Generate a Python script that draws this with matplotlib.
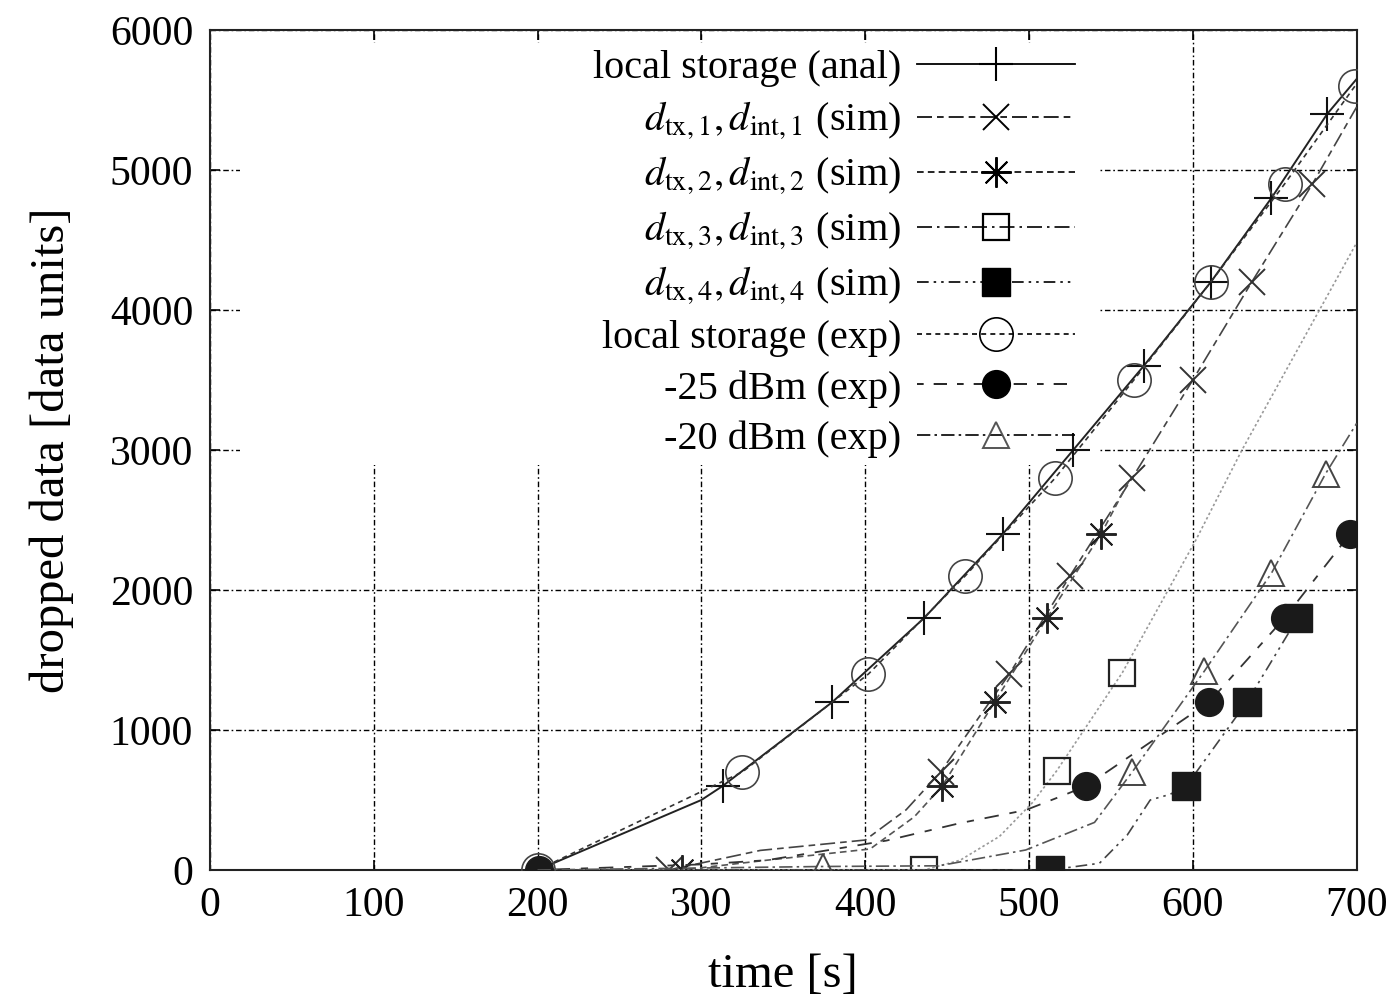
import numpy as np
import matplotlib
matplotlib.use('Agg')
import matplotlib.pyplot as plt
from matplotlib.lines import Line2D
from matplotlib.patches import Rectangle

plt.rcParams['font.family'] = ['Liberation Serif', 'DejaVu Serif']
plt.rcParams['mathtext.fontset'] = 'stix'

# ---- data (time [s], dropped data [data units]) ----
# local storage (anal): line + markers
anal_line_t = [200, 300, 313, 380, 436, 484, 527, 570, 611, 648, 682, 700]
anal_line_y = [0, 500, 600, 1200, 1800, 2400, 3000, 3600, 4200, 4800, 5400, 5650]
anal_mark_t = [313, 380, 436, 484, 527, 570, 611, 648, 682]
anal_mark_y = [600, 1200, 1800, 2400, 3000, 3600, 4200, 4800, 5400]

# d_tx,1 / d_int,1 (sim)
d1_line_t = [200, 280, 336, 400, 425, 446, 488, 525, 563, 600, 636, 673, 700]
d1_line_y = [0, 0, 140, 214, 430, 700, 1400, 2100, 2800, 3500, 4200, 4900, 5450]
d1_mark_t = [280, 446, 488, 525, 563, 600, 636, 673]
d1_mark_y = [0, 700, 1400, 2100, 2800, 3500, 4200, 4900]

# d_tx,2 / d_int,2 (sim)
d2_line_t = [200, 288, 340, 403, 430, 447, 479, 511, 544, 562]
d2_line_y = [0, 0, 70, 150, 380, 600, 1200, 1800, 2400, 2800]
d2_mark_t = [288, 447, 479, 511, 544]
d2_mark_y = [0, 600, 1200, 1800, 2400]

# d_tx,3 / d_int,3 (sim)
d3_line_t = [200, 436, 458, 482, 502, 517, 557, 602, 630, 700]
d3_line_y = [0, 0, 70, 240, 480, 710, 1410, 2360, 3000, 4480]
d3_mark_t = [436, 517, 557]
d3_mark_y = [0, 710, 1410]

# d_tx,4 / d_int,4 (sim)
d4_line_t = [200, 513, 543, 560, 574, 586, 596, 633, 664]
d4_line_y = [0, 0, 48, 250, 500, 540, 600, 1200, 1800]
d4_mark_t = [513, 596, 633, 664]
d4_mark_y = [0, 600, 1200, 1800]

# local storage (exp)
exp_t = [200, 325, 402, 461, 516, 564, 611, 656, 699]
exp_y = [0, 700, 1400, 2100, 2800, 3500, 4200, 4900, 5600]

# -25 dBm (exp)
m25_line_t = [200, 300, 340, 413, 458, 498, 519, 535, 610, 656, 696]
m25_line_y = [0, 40, 70, 210, 335, 428, 524, 600, 1200, 1800, 2400]
m25_mark_t = [201, 535, 610, 656, 696]
m25_mark_y = [0, 600, 1200, 1800, 2400]

# -20 dBm (exp)
m20_line_t = [200, 374, 445, 498, 540, 563, 607, 648, 681, 700]
m20_line_y = [0, 25, 30, 143, 340, 700, 1420, 2120, 2830, 3190]
m20_mark_t = [374, 563, 607, 648, 681]
m20_mark_y = [25, 700, 1420, 2120, 2830]

labels = ['local storage (anal)',
          r'$d_{\mathrm{tx},1}, d_{\mathrm{int},1}$ (sim)',
          r'$d_{\mathrm{tx},2}, d_{\mathrm{int},2}$ (sim)',
          r'$d_{\mathrm{tx},3}, d_{\mathrm{int},3}$ (sim)',
          r'$d_{\mathrm{tx},4}, d_{\mathrm{int},4}$ (sim)',
          'local storage (exp)',
          '-25 dBm (exp)',
          '-20 dBm (exp)']

x_ticks = np.arange(0, 701, 100)
y_ticks = np.arange(0, 6001, 1000)

fig = plt.figure(figsize=(13.9, 10), dpi=100)
ax = fig.add_axes([0.151, 0.13, 0.825, 0.84])

asterisk = (8, 2, 0)

# line styles
ls_d1 = (0, (9, 3, 4, 3))
ls_d2 = (0, (4, 2.5))
ls_d3 = (0, (9, 3, 1.5, 3))
ls_d4 = (0, (7, 3, 1.5, 3, 1.5, 3))
ls_exp = (0, (3, 2.5))
ls_m25 = (0, (4, 6, 8, 6))
ls_m20 = (0, (8, 2.5, 1.5, 2.5))

z = 3
ax.plot(anal_line_t, anal_line_y, color='#222222', lw=1.4, zorder=z)
ax.plot(anal_mark_t, anal_mark_y, ls='none', marker='+', ms=24, mew=1.5, color='#111111', zorder=z)

ax.plot(d1_line_t, d1_line_y, color='#444444', lw=1.2, ls=ls_d1, zorder=z)
ax.plot(d1_mark_t, d1_mark_y, ls='none', marker='x', ms=19, mew=1.4, color='#333333', zorder=z)

ax.plot(d2_line_t, d2_line_y, color='#555555', lw=1.2, ls=ls_d2, zorder=z)
ax.plot(d2_mark_t, d2_mark_y, ls='none', marker=asterisk, ms=22, mew=1.4, color='#222222', zorder=z)

ax.plot(d3_line_t, d3_line_y, color='#999999', lw=1.2, ls=(0, (1.5, 1.5)), zorder=z)
ax.plot(d3_mark_t, d3_mark_y, ls='none', marker='s', ms=19, mew=1.6, mfc='none', color='#222222', zorder=z)

ax.plot(d4_line_t, d4_line_y, color='#444444', lw=1.2, ls=ls_d4, zorder=z)
ax.plot(d4_mark_t, d4_mark_y, ls='none', marker='s', ms=20, color='#1a1a1a', zorder=z)

ax.plot(exp_t, exp_y, color='#333333', lw=1.2, ls=ls_exp, marker='o', ms=24, mew=1.2,
        mfc='none', mec='#444444', zorder=z)

ax.plot(m25_line_t, m25_line_y, color='#333333', lw=1.3, ls=ls_m25, zorder=z)
ax.plot(m25_mark_t, m25_mark_y, ls='none', marker='o', ms=20, color='#1a1a1a', zorder=z)

ax.plot(m20_line_t, m20_line_y, color='#555555', lw=1.2, ls=ls_m20, zorder=z)
ax.plot(m20_mark_t, m20_mark_y, ls='none', marker='^', ms=19, mew=1.4, mfc='none',
        color='#444444', zorder=z)

# axes
ax.set_xlim(0, 700)
ax.set_ylim(0, 6000)
ax.set_xticks(x_ticks)
ax.set_yticks(y_ticks)
ax.tick_params(direction='in', length=7, width=1.2, top=True, right=True,
               labelsize=30, pad=12)
for s in ax.spines.values():
    s.set_linewidth(1.5)
    s.set_color('#222222')
ax.set_axisbelow(True)
ax.grid(True, color='black', lw=1.0, ls=(0, (4, 2, 1.2, 2)))
ax.set_xlabel('time [s]', fontsize=35, labelpad=20)
ax.set_ylabel('dropped data [data units]', fontsize=35, labelpad=26)

# white box behind the key (covers the grid there)
ax.add_patch(Rectangle((0.026, 0.482), 0.75, 0.503, transform=ax.transAxes,
                       facecolor='white', edgecolor='none', zorder=1))

# key
handles = [
    Line2D([], [], color='black', lw=1.3, marker='+', ms=24, mew=1.5),
    Line2D([], [], color='black', lw=1.2, ls=ls_d1, marker='x', ms=19, mew=1.4),
    Line2D([], [], color='black', lw=1.2, ls=ls_d2, marker=asterisk, ms=22, mew=1.4),
    Line2D([], [], color='black', lw=1.2, ls=ls_d3, marker='s', ms=19, mew=1.6, mfc='none'),
    Line2D([], [], color='black', lw=1.2, ls=ls_d4, marker='s', ms=20),
    Line2D([], [], color='black', lw=1.2, ls=ls_exp, marker='o', ms=24, mew=1.2, mfc='none'),
    Line2D([], [], color='black', lw=1.2, ls=ls_m25, marker='o', ms=20),
    Line2D([], [], color='black', lw=1.2, ls=ls_m20, marker='^', ms=19, mew=1.4, mfc='none',
           mec='#555555'),
]
leg = ax.legend(handles, labels, loc='upper right', bbox_to_anchor=(0.754, 0.976),
                frameon=False, markerfirst=False, fontsize=29, handlelength=3.9,
                handletextpad=0.4, labelspacing=0.32, borderpad=0, borderaxespad=0,
                numpoints=1)
leg.set_zorder(5)

fig.savefig('out.png', dpi=100)
